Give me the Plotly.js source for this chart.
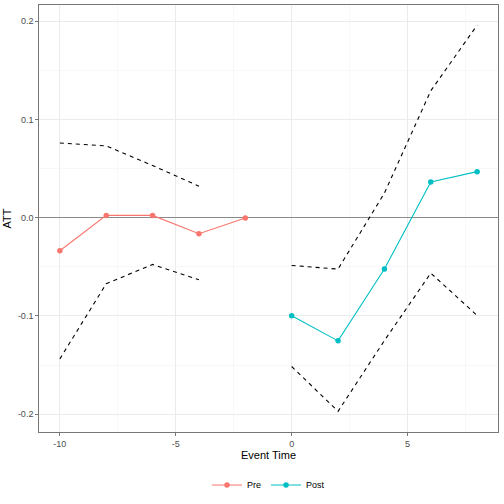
<!DOCTYPE html>
<html>
<head>
<meta charset="utf-8">
<script src="https://cdn.plot.ly/plotly-3.0.1.min.js"></script>
<style>html,body{margin:0;padding:0;background:#fff;}#chart{width:504px;height:504px;}</style>
</head>
<body>
<div id="chart"></div>
<script>
// Data
const preTime = [-10, -8, -6, -4, -2];
const preATT = [-0.0336, 0.0023, 0.0023, -0.0163, -0.0004];
const preCITime = [-10, -8, -6, -4];
const preUpper = [0.076, 0.073, 0.053, 0.032];
const preLower = [-0.1436, -0.0672, -0.0476, -0.0631];

const postTime = [0, 2, 4, 6, 8];
const postATT = [-0.0998, -0.1253, -0.0523, 0.0363, 0.0468];
const postUpper = [-0.0486, -0.0523, 0.025, 0.1290, 0.1958];
const postLower = [-0.1514, -0.1970, -0.1250, -0.0564, -0.0995];

const xTickVals = [-10, -5, 0, 5];
const xTickText = ["-10", "-5", "0", "5"];
const yTickVals = [-0.2, -0.1, 0.0, 0.1, 0.2];
const yTickText = ["-0.2", "-0.1", "0.0", "0.1", "0.2"];

const preColor = '#F8766D';
const postColor = '#00BFC4';
const dashStyle = {color: '#000000', width: 1.1, dash: '4px,4px'};

const traces = [
  {x: preCITime, y: preUpper, mode: 'lines', line: dashStyle, showlegend: false, hoverinfo: 'skip'},
  {x: preCITime, y: preLower, mode: 'lines', line: dashStyle, showlegend: false, hoverinfo: 'skip'},
  {x: postTime, y: postUpper, mode: 'lines', line: dashStyle, showlegend: false, hoverinfo: 'skip'},
  {x: postTime, y: postLower, mode: 'lines', line: dashStyle, showlegend: false, hoverinfo: 'skip'},
  {x: preTime, y: preATT, name: 'Pre', mode: 'lines+markers',
   line: {color: preColor, width: 1.1}, marker: {color: preColor, size: 5.5}},
  {x: postTime, y: postATT, name: 'Post', mode: 'lines+markers',
   line: {color: postColor, width: 1.1}, marker: {color: postColor, size: 5.5}}
];

const axisCommon = {
  showline: true, mirror: true, linecolor: '#555555', linewidth: 0.8,
  ticks: 'outside', ticklen: 3, tickcolor: '#555555', tickwidth: 0.8,
  tickfont: {family: 'Liberation Sans, Arial, sans-serif', size: 9, color: '#4D4D4D'},
  showgrid: true, gridcolor: '#EBEBEB', gridwidth: 1,
  zeroline: false
};

const layout = {
  width: 504, height: 504,
  margin: {l: 39, r: 6, t: 5, b: 72},
  paper_bgcolor: '#ffffff', plot_bgcolor: '#ffffff',
  font: {family: 'Liberation Sans, Arial, sans-serif', color: '#000000'},
  xaxis: Object.assign({}, axisCommon, {
    range: [-10.9, 8.9],
    tickmode: 'array', tickvals: xTickVals, ticktext: xTickText,
    minor: {showgrid: true, gridcolor: '#F4F4F4', gridwidth: 0.6, tickmode: 'array', tickvals: [-7.5, -2.5, 2.5, 7.5]},
    title: {text: 'Event Time', font: {size: 11, color: '#000'}, standoff: 0}
  }),
  yaxis: Object.assign({}, axisCommon, {
    range: [-0.218, 0.2163],
    tickmode: 'array', tickvals: yTickVals, ticktext: yTickText,
    minor: {showgrid: true, gridcolor: '#F4F4F4', gridwidth: 0.6, tickmode: 'array', tickvals: [-0.15, -0.05, 0.05, 0.15]},
    zeroline: true, zerolinecolor: '#8A8A8A', zerolinewidth: 1.1,
    title: {text: 'ATT', font: {size: 11, color: '#000'}, standoff: 3}
  }),
  showlegend: true,
  legend: {
    orientation: 'h', x: 0.5, xanchor: 'center', y: -0.124, yanchor: 'middle',
    font: {size: 9, color: '#000'}, itemwidth: 30, tracegroupgap: 0
  }
};

Plotly.newPlot('chart', traces, layout, {displayModeBar: false, staticPlot: true});
</script>
</body>
</html>
